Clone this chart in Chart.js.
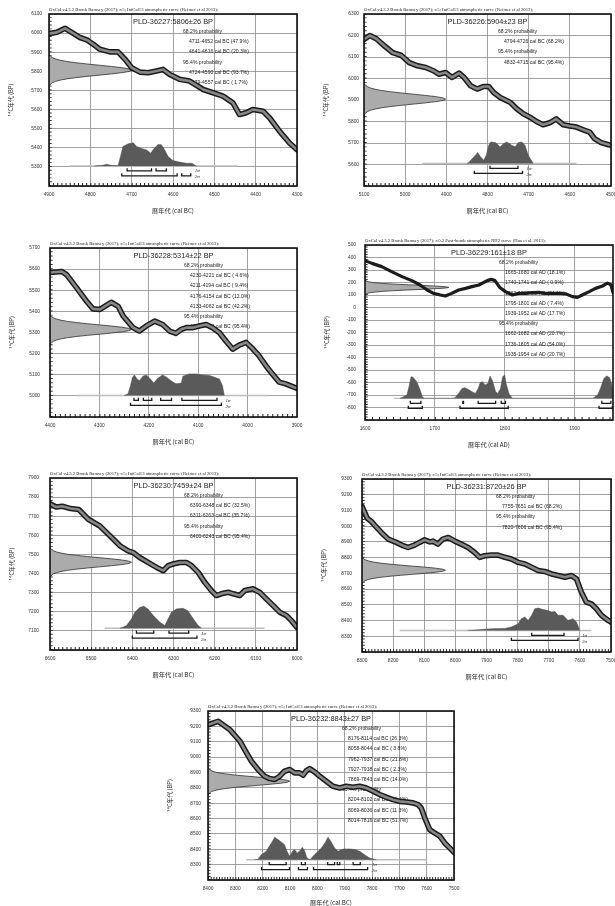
<!DOCTYPE html>
<html><head><meta charset="utf-8">
<script src="https://cdn.jsdelivr.net/npm/chart.js@4.4.1/dist/chart.umd.min.js"></script>
<style>
html,body{margin:0;padding:0;background:#fff;overflow:hidden;width:615px;height:906px;position:relative;}
canvas{position:absolute;}
</style>
</head><body>
<script>
// ---------------- DATA ----------------
const hdrIntCal = 'OxCal v4.3.2 Bronk Ramsey (2017); r:5; IntCal13 atmospheric curve (Reimer et al 2013);';
const hdrBomb = 'OxCal v4.3.2 Bronk Ramsey (2017); r:0.2 Post-bomb atmospheric NH2 curve (Hua et al. 2013);';

const labCodes = ['PLD-36227','PLD-36226','PLD-36228','PLD-36229','PLD-36230','PLD-36231','PLD-36232'];
const bpValues = [5806, 5904, 5314, 161, 7459, 8720, 8843];
const bpErrors = [26, 23, 22, 18, 24, 26, 27];

// shape of the measured-age distribution drawn on the y axis (offset in sigma, relative length)
const gaussZ = [-3,-2.75,-2.5,-2.25,-2,-1.75,-1.5,-1.25,-1,-0.75,-0.5,-0.25,0,0.25,0.5,0.75,1,1.25,1.5,1.75,2,2.25,2.5,2.75,3];
const gaussW = [0.011,0.023,0.044,0.080,0.135,0.216,0.325,0.458,0.607,0.755,0.882,0.969,1,0.969,0.882,0.755,0.607,0.458,0.325,0.216,0.135,0.080,0.044,0.023,0.011];
const gaussTips = [4700, 4902, 4235, 1720, 6402, 8032, 8101];

// calibration curves [cal year, 14C BP]
const curve1 = [[4900,5997],[4881,6004],[4861,6025],[4845,6004],[4825,5977],[4807,5963],[4793,5942],[4777,5916],[4753,5902],[4733,5902],[4716,5863],[4700,5819],[4680,5796],[4660,5793],[4640,5802],[4624,5810],[4608,5784],[4584,5758],[4560,5749],[4543,5726],[4527,5705],[4503,5688],[4479,5670],[4455,5635],[4439,5574],[4423,5583],[4407,5600],[4382,5591],[4366,5556],[4342,5486],[4318,5425],[4300,5390]];
const curve2 = [[5100,6182],[5086,6200],[5070,6185],[5050,6151],[5030,6120],[5010,6108],[4990,6074],[4970,6059],[4950,6051],[4930,6035],[4918,6020],[4902,6028],[4886,6005],[4869,6025],[4857,6005],[4841,5966],[4825,5951],[4809,5963],[4797,5963],[4785,5935],[4769,5912],[4753,5897],[4745,5889],[4729,5859],[4713,5836],[4697,5820],[4681,5800],[4665,5785],[4649,5794],[4633,5812],[4616,5785],[4600,5779],[4584,5774],[4564,5759],[4552,5751],[4540,5720],[4524,5702],[4506,5692],[4500,5690]];
const curve3 = [[4400,5584],[4376,5589],[4366,5573],[4346,5511],[4326,5448],[4313,5412],[4299,5409],[4289,5424],[4276,5443],[4262,5424],[4252,5378],[4232,5323],[4219,5307],[4205,5331],[4188,5354],[4172,5338],[4158,5307],[4145,5296],[4134,5315],[4124,5323],[4111,5323],[4098,5331],[4084,5338],[4071,5323],[4057,5299],[4044,5260],[4030,5221],[4017,5240],[4003,5253],[3990,5224],[3977,5190],[3963,5143],[3950,5104],[3936,5065],[3923,5057],[3906,5041],[3900,5036]];
const curve4 = [[1600,375],[1610,353],[1624,327],[1638,287],[1653,247],[1667,215],[1679,180],[1689,140],[1698,113],[1708,100],[1715,92],[1724,113],[1734,140],[1744,153],[1753,167],[1763,180],[1775,215],[1781,225],[1786,215],[1793,160],[1801,127],[1811,100],[1820,113],[1830,113],[1839,119],[1849,121],[1858,113],[1868,113],[1878,113],[1887,110],[1897,87],[1904,81],[1911,100],[1921,127],[1930,153],[1940,172],[1947,195],[1952,182],[1955,120]];
const curve5 = [[6600,7765],[6585,7748],[6570,7752],[6550,7740],[6530,7735],[6507,7684],[6479,7649],[6454,7597],[6430,7545],[6410,7519],[6398,7510],[6382,7484],[6362,7458],[6341,7432],[6325,7415],[6313,7441],[6301,7450],[6285,7458],[6269,7458],[6256,7441],[6240,7406],[6224,7354],[6208,7311],[6196,7285],[6184,7294],[6167,7302],[6155,7294],[6139,7285],[6127,7311],[6107,7320],[6091,7302],[6075,7268],[6058,7233],[6042,7198],[6026,7181],[6014,7155],[6000,7118]];
const curve6 = [[8300,9125],[8292,9090],[8283,9050],[8270,9030],[8259,9005],[8238,8960],[8216,8918],[8190,8897],[8168,8876],[8152,8865],[8131,8880],[8115,8897],[8099,8913],[8082,8900],[8072,8905],[8056,8886],[8040,8918],[8023,8928],[8002,8905],[7981,8886],[7959,8865],[7938,8833],[7922,8802],[7906,8812],[7884,8816],[7863,8816],[7841,8802],[7820,8791],[7798,8770],[7777,8760],[7755,8739],[7734,8718],[7713,8712],[7691,8696],[7670,8686],[7648,8675],[7627,8686],[7611,8665],[7595,8580],[7579,8517],[7563,8506],[7547,8475],[7530,8432],[7509,8401],[7500,8390]];
const curve7 = [[8400,9210],[8363,9233],[8321,9180],[8283,9103],[8260,9030],[8241,8973],[8217,8919],[8193,8875],[8174,8860],[8156,8854],[8138,8875],[8120,8908],[8101,8919],[8083,8897],[8065,8897],[8052,8882],[8040,8912],[8028,8925],[8010,8904],[7991,8875],[7967,8843],[7943,8810],[7918,8799],[7894,8810],[7870,8804],[7845,8810],[7821,8799],[7796,8778],[7772,8756],[7748,8739],[7723,8723],[7699,8712],[7674,8708],[7650,8702],[7632,8691],[7620,8669],[7607,8604],[7589,8528],[7571,8506],[7552,8485],[7534,8441],[7516,8409],[7500,8380]];

// calibrated probability distributions [cal year, plotted level]
const dist1 = [[4790,5305],[4770,5308],[4761,5314],[4750,5308],[4733,5306],[4727,5354],[4721,5407],[4708,5421],[4696,5426],[4688,5407],[4676,5396],[4664,5389],[4654,5372],[4646,5396],[4636,5417],[4628,5416],[4620,5389],[4612,5354],[4600,5333],[4584,5325],[4568,5319],[4555,5319],[4543,5305]];
const dist2 = [[4850,5605],[4845,5610],[4837,5628],[4829,5643],[4824,5656],[4817,5636],[4809,5620],[4803,5643],[4797,5689],[4792,5705],[4781,5702],[4769,5682],[4761,5697],[4753,5705],[4741,5689],[4733,5682],[4725,5702],[4717,5705],[4709,5689],[4701,5643],[4689,5605]];
const dist3 = [[4250,5002],[4242,5010],[4237,5049],[4233,5088],[4229,5099],[4224,5080],[4219,5072],[4212,5093],[4205,5099],[4198,5083],[4190,5061],[4182,5083],[4172,5099],[4164,5088],[4155,5072],[4145,5057],[4134,5061],[4131,5093],[4118,5104],[4104,5104],[4091,5099],[4077,5096],[4067,5088],[4057,5080],[4051,5049],[4047,5002]];
const dist4 = [[1650,-727],[1653,-720],[1660,-700],[1663,-633],[1666,-553],[1669,-559],[1674,-593],[1679,-660],[1682,-713],[1685,-727],[1727,-727],[1729,-720],[1734,-687],[1739,-647],[1743,-641],[1748,-655],[1753,-673],[1758,-687],[1762,-647],[1765,-601],[1768,-593],[1772,-620],[1776,-607],[1779,-548],[1783,-593],[1787,-673],[1790,-687],[1794,-647],[1797,-553],[1800,-540],[1802,-607],[1806,-687],[1811,-727],[1926,-727],[1928,-720],[1933,-700],[1937,-647],[1942,-567],[1946,-548],[1950,-559],[1953,-607],[1955,-727]];
const dist5 = [[6430,7114],[6422,7120],[6414,7128],[6402,7163],[6394,7197],[6382,7223],[6372,7229],[6362,7215],[6349,7180],[6333,7145],[6321,7128],[6313,7163],[6305,7197],[6293,7215],[6277,7218],[6265,7206],[6252,7163],[6240,7128],[6232,7114]];
const dist6 = [[7960,8337],[7938,8340],[7884,8348],[7841,8350],[7820,8359],[7798,8380],[7788,8412],[7777,8422],[7766,8401],[7755,8433],[7745,8475],[7734,8479],[7718,8470],[7702,8464],[7691,8454],[7680,8458],[7670,8433],[7654,8433],[7638,8401],[7622,8412],[7611,8390],[7600,8337]];
const dist7 = [[8230,8332],[8217,8335],[8205,8365],[8187,8387],[8168,8441],[8156,8478],[8144,8463],[8132,8448],[8120,8430],[8111,8387],[8101,8354],[8091,8387],[8083,8398],[8074,8376],[8065,8387],[8055,8413],[8046,8387],[8038,8343],[8026,8332],[8016,8354],[8004,8376],[7985,8408],[7970,8448],[7961,8478],[7949,8448],[7937,8408],[7924,8387],[7912,8398],[7900,8402],[7882,8402],[7863,8398],[7845,8387],[7827,8365],[7809,8343],[7784,8332]];

// extent of the thin baseline under each distribution
const base1 = [4850, 4443];
const base2 = [4958, 4584];
const base3 = [4346, 3957];
const base4 = [1641, 1955];
const base5 = [6467, 6079];
const base6 = [8179, 7563];
const base7 = [8260, 7601];

// calibrated ranges (1 sigma / 2 sigma) and their probabilities (%)
const r1s1 = [[4711,4652],[4641,4616]];                       const p1s1 = [47.9, 20.3];
const r1s2 = [[4724,4590],[4579,4557]];                       const p1s2 = [93.7, 1.7];
const r2s1 = [[4794,4726]];                                   const p2s1 = [68.2];
const r2s2 = [[4832,4715]];                                   const p2s2 = [95.4];
const r3s1 = [[4230,4221],[4211,4194],[4176,4154],[4133,4062]]; const p3s1 = [4.6, 9.4, 12.0, 42.2];
const r3s2 = [[4237,4053]];                                   const p3s2 = [95.4];
const r4s1 = [[1665,1680],[1740,1741],[1762,1787],[1795,1801],[1939,1952]]; const p4s1 = [18.1, 0.9, 24.1, 7.4, 17.7];
const r4s2 = [[1662,1682],[1736,1805],[1935,1954]];           const p4s2 = [20.7, 54.0, 20.7];
const r5s1 = [[6390,6348],[6311,6263]];                       const p5s1 = [32.5, 35.7];
const r5s2 = [[6400,6243]];                                   const p5s2 = [95.4];
const r6s1 = [[7755,7651]];                                   const p6s1 = [68.2];
const r6s2 = [[7820,7606]];                                   const p6s2 = [95.4];
const r7s1 = [[8176,8114],[8058,8044],[7962,7937],[7927,7918],[7869,7843]]; const p7s1 = [26.3, 3.8, 21.8, 2.3, 14.0];
const r7s2 = [[8204,8102],[8069,8036],[8014,7816]];           const p7s2 = [32.4, 11.3, 51.7];

// axis ranges
const xRanges = [[4300,4900],[4500,5100],[3900,4400],[1600,1955],[6000,6600],[7500,8300],[7500,8400]];
const yRanges = [[5200,6100],[5500,6300],[4900,5700],[-900,500],[7000,7900],[8200,9300],[8200,9300]];
const eras = ['BC','BC','BC','AD','BC','BC','BC'];

// ---------------- LAYOUT ----------------
const layout = [
  {L:49,  T:14,  R:297, B:186, base:5305, ytPad:7,  xH:32},
  {L:364, T:14,  R:611, B:186, base:5605, ytPad:5,  xH:32},
  {L:50,  T:248, R:297, B:417, base:5002, ytPad:10, xH:32},
  {L:365, T:245, R:613, B:420, base:-727, ytPad:9,  xH:32},
  {L:50,  T:478, R:297, B:650, base:7114, ytPad:11, xH:32},
  {L:362, T:479, R:611, B:652, base:8337, ytPad:10, xH:32},
  {L:208, T:711, R:454, B:880, base:8332, ytPad:7,  xH:30}
];

const curves = [curve1,curve2,curve3,curve4,curve5,curve6,curve7];
const dists = [dist1,dist2,dist3,dist4,dist5,dist6,dist7];
const bases = [base1,base2,base3,base4,base5,base6,base7];
const s1 = [r1s1,r2s1,r3s1,r4s1,r5s1,r6s1,r7s1], s1p = [p1s1,p2s1,p3s1,p4s1,p5s1,p6s1,p7s1];
const s2 = [r1s2,r2s2,r3s2,r4s2,r5s2,r6s2,r7s2], s2p = [p1s2,p2s2,p3s2,p4s2,p5s2,p6s2,p7s2];

const SANS = '"Liberation Sans", Arial, sans-serif';
const SERIF = '"Liberation Serif", "Times New Roman", serif';
const CJK = '"Noto Sans CJK JP", "Liberation Sans", sans-serif';

function toPts(arr){ return arr.map(([x,y]) => ({x, y})); }
function pct(v){ const s = v.toFixed(1); return v < 10 ? ' ' + s : s; }
function barPts(ranges, y, tk){
  const pts = [];
  ranges.forEach(([a,b]) => { pts.push({x:a,y:y+tk},{x:a,y:y},{x:b,y:y},{x:b,y:y+tk},{x:b,y:null}); });
  return pts;
}

function buildPanel(i){
  const lay = layout[i];
  const [xmin, xmax] = xRanges[i];
  const [ymin, ymax] = yRanges[i];
  const era = eras[i];
  const bc = era === 'BC';
  const W = lay.R - lay.L + 45 + 14, H = lay.B - lay.T + 14 + lay.xH;
  const c = document.createElement('canvas');
  c.width = W; c.height = H;
  c.style.left = (lay.L - 45) + 'px'; c.style.top = (lay.T - 14) + 'px';
  c.style.width = W + 'px'; c.style.height = H + 'px';
  document.body.appendChild(c);

  const xLeft = bc ? xmax : xmin, xRight = bc ? xmin : xmax, dir = bc ? -1 : 1;
  const xUpp = (xmax - xmin) / (lay.R - lay.L);
  const yUpp = (ymax - ymin) / (lay.B - lay.T);
  const y1 = lay.base - 5 * yUpp, y2 = lay.base - 10 * yUpp, tk = 2.6 * yUpp;

  const mean = bpValues[i], sd = bpErrors[i], tip = gaussTips[i];
  const gPts = [{x:xLeft, y:mean - 3.05*sd}];
  gaussZ.forEach((z,k) => gPts.push({x: xLeft + gaussW[k]*(tip - xLeft), y: mean + z*sd}));
  gPts.push({x:xLeft, y:mean + 3.05*sd});

  const lines = [{t:'68.2% probability', ind:false}];
  s1[i].forEach((r,k) => lines.push({t:`${r[0]}-${r[1]} cal ${era} (${pct(s1p[i][k])}%)`, ind:true}));
  lines.push({t:'95.4% probability', ind:false});
  s2[i].forEach((r,k) => lines.push({t:`${r[0]}-${r[1]} cal ${era} (${pct(s2p[i][k])}%)`, ind:true}));
  const title = `${labCodes[i]}:${mean}\u00B1${sd} BP`;
  const header = bc ? hdrIntCal : hdrBomb;
  const band = i !== 3;

  let tickX = 10 / xUpp; while (tickX < 2.4) tickX *= 2;
  let tickY = 10 / yUpp; while (tickY < 2.4) tickY *= 2;

  const datasets = [
    {data: barPts(s1[i], y1, tk), borderColor:'#1a1a1a', borderWidth:1.3, order:1},
    {data: barPts(s2[i], y2, tk), borderColor:'#1a1a1a', borderWidth:1.3, order:1},
  ];
  if (band) datasets.push({data: toPts(curves[i]), borderColor:'#878787', borderWidth:2.6, order:2, borderJoinStyle:'round'});
  datasets.push({data: toPts(curves[i]), borderColor:'#1c1c1c', borderWidth: band ? 5.6 : 3.2, order:3, borderJoinStyle:'round', borderCapStyle:'round'});
  datasets.push({data: gPts, fill:'shape', backgroundColor:'#ababab', borderColor:'#2e2e2e', borderWidth:0.8, order:4});
  datasets.push({data: toPts(dists[i]), fill:{value: lay.base}, backgroundColor:'#5a5a5a', borderColor:'#4c4c4c', borderWidth:0.5, order:5});
  datasets.push({data: [{x:bases[i][0], y:lay.base},{x:bases[i][1], y:lay.base}], borderColor:'#bdbdbd', borderWidth:1.4, order:6});
  datasets.push({data: [{x:xLeft, y:ymin + 1.5*yUpp},{x:xRight, y:ymin + 1.5*yUpp}], borderColor:'#222', borderWidth:3, borderDash:[1, tickX-1], order:7});
  datasets.push({data: [{x:xLeft + dir*1.4*xUpp, y:ymin},{x:xLeft + dir*1.4*xUpp, y:ymax}], borderColor:'#333', borderWidth:2.6, borderDash:[0.9, tickY-0.9], order:7});

  const textPlugin = {
    id: 'panelText' + i,
    beforeDatasetsDraw(chart){
      const {ctx, chartArea:a} = chart;
      ctx.save();
      ctx.fillStyle = '#1e1e1e';
      ctx.textBaseline = 'middle';
      ctx.textAlign = 'center';
      ctx.font = '7.4px ' + SANS;
      ctx.fillText(title, (a.left + a.right)/2, a.top + 8, 84);
      ctx.textAlign = 'left';
      ctx.font = '5.1px ' + SANS;
      lines.forEach((ln,k) => ctx.fillText(ln.t, a.left + (ln.ind ? 140 : 134), a.top + 17.5 + k*10.2));
      ctx.restore();
    },
    afterDatasetsDraw(chart){
      const {ctx, chartArea:a, scales} = chart;
      ctx.save();
      ctx.strokeStyle = '#111';
      ctx.lineWidth = 1.6;
      ctx.strokeRect(a.left, a.top, a.right - a.left, a.bottom - a.top);
      ctx.fillStyle = '#222';
      ctx.textBaseline = 'middle';
      ctx.textAlign = 'left';
      ctx.font = '4.7px ' + SERIF;
      ctx.fillText(header, a.left, a.top - 4, 194);
      // sigma labels
      const ends = s1[i].concat(s2[i]).map(r => Math.max(scales.x.getPixelForValue(r[0]), scales.x.getPixelForValue(r[1])));
      const xl = Math.max(...ends) + 4;
      ctx.font = 'italic 5px ' + SERIF;
      ctx.fillText('1\u03C3', xl, scales.y.getPixelForValue(y1));
      ctx.fillText('2\u03C3', xl, scales.y.getPixelForValue(y2) + 1);
      ctx.restore();
    }
  };

  new Chart(c, {
    type: 'line',
    data: {datasets},
    options: {
      responsive:false, animation:false, events:[], devicePixelRatio:1,
      parsing: true,
      layout: {padding:{top:14, right:14, left:0, bottom:0}},
      plugins: {legend:{display:false}, tooltip:{enabled:false}, title:{display:false}},
      elements: {point:{radius:0}, line:{tension:0}},
      scales: {
        x: {
          type:'linear', min:xmin, max:xmax, reverse:bc,
          afterFit: s => { s.height = lay.xH; },
          grid: {color:'#8a8a8a', lineWidth:0.8, drawTicks:false},
          border: {display:false},
          ticks: {stepSize:100, maxTicksLimit:100, autoSkip:false, maxRotation:0, minRotation:0, includeBounds:false,
                  padding:5.5, color:'#333', font:{size:4.8, family:SANS}, callback: v => String(v)},
          title: {display:true, text:`暦年代 (cal ${era})`, color:'#222', font:{size:6.2, family:CJK}, padding:{top:0, bottom:3.8}}
        },
        y: {
          type:'linear', min:ymin, max:ymax,
          afterFit: s => { s.width = 45; },
          grid: {color:'#8a8a8a', lineWidth:0.8, drawTicks:false},
          border: {display:false},
          ticks: {stepSize:100, maxTicksLimit:100, autoSkip:false, includeBounds:false, padding:lay.ytPad, color:'#333',
                  font:{size:4.8, family:SANS}, callback: v => (v === ymin ? '' : String(v))},
          title: {display:true, text:'\u00B9\u2074C年代 (BP)', color:'#222', font:{size:5.8, family:CJK}, padding:{top:3.4, bottom:0}}
        }
      }
    },
    plugins: [textPlugin]
  });
}

for (let i = 0; i < 7; i++) buildPanel(i);
</script>
</body></html>
